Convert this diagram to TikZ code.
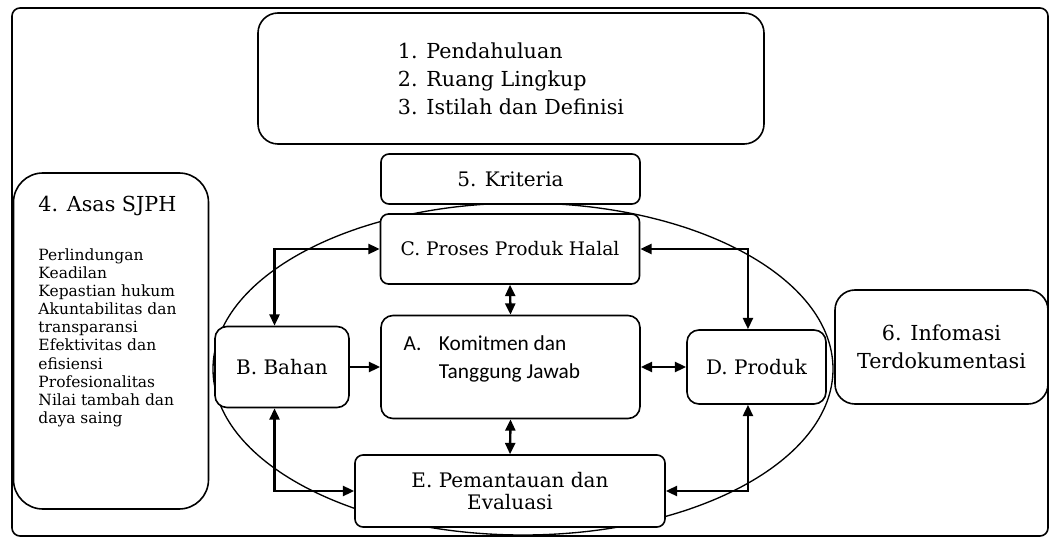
\documentclass[tikz,border=0pt]{standalone}
\usepackage{fontspec}
\setmainfont{DejaVu Serif}
\newfontfamily\calibri{Carlito}
\usetikzlibrary{arrows.meta}

\tikzset{every picture/.style={line width=0.75pt}}
\tikzset{
	kotak/.style={draw, line width=1.2pt, fill=white, rounded corners=6pt, align=center, inner sep=0pt, font=\fontsize{15}{21}\selectfont},
	panah/.style={line width=1.8pt},
}

\begin{document}
\begin{tikzpicture}[x=0.75pt,y=0.75pt,yscale=-1,xscale=1, >={Triangle[length=8.5pt,width=7.5pt]}]
	\useasboundingbox (0,0) rectangle (1050,538);

	%Rounded Rect [frame]
	\draw [line width=1.2pt, rounded corners=6pt] (12,8) rectangle (1048,536);
	%Shape: Ellipse
	\draw [line width=1pt] (523,369) ellipse [x radius=310, y radius=166];

	% Text Node
	\node [kotak, minimum width=379.5pt, minimum height=98.25pt, rounded corners=15pt, align=left, font=\fontsize{15.5}{21}\selectfont] (pendahuluan) at (511,78.5) {1. Pendahuluan\\2. Ruang Lingkup\\3. Istilah dan Definisi};
	% Text Node
	\node [kotak, minimum width=194.25pt, minimum height=37.5pt] (kriteria) at (510.5,179) {5. Kriteria};
	% Text Node
	\node [kotak, minimum width=194.25pt, minimum height=52.5pt, font=\fontsize{14}{21}\selectfont] (proses) at (510,249) {C. Proses Produk Halal};
	% Text Node
	\node [kotak, minimum width=194.25pt, minimum height=77.25pt, rounded corners=9pt, align=left, font=\calibri\fontsize{16}{21}\selectfont] (komitmen) at (510.5,367) {A.\hspace{13pt}Komitmen dan\\\phantom{A.}\hspace{13pt}Tanggung Jawab\rule{28pt}{0pt}\\[-6pt]\mbox{}};
	% Text Node
	\node [kotak, minimum width=100.5pt, minimum height=60.75pt, rounded corners=9pt] (bahan) at (282,367) {B. Bahan};
	% Text Node
	\node [kotak, minimum width=104.25pt, minimum height=55.5pt, rounded corners=9pt] (produk) at (756.5,367) {D. Produk};
	% Text Node
	\node [kotak, minimum width=232.5pt, minimum height=54pt, font=\fontsize{15}{16.5}\selectfont] (pemantauan) at (510,491) {E. Pemantauan dan\\Evaluasi};
	% Text Node
	\node [kotak, minimum width=146.25pt, minimum height=252pt, rounded corners=22pt] (asas) at (111,341) {};
	\node [anchor=west, inner sep=0pt, font=\fontsize{15.5}{21}\selectfont] (asasjudul) at (38,206) {4. Asas SJPH};
	\node [anchor=north west, inner sep=0pt, align=left, font=\fontsize{11.6}{13.6}\selectfont] (asasisi) at (38,248) {Perlindungan\\Keadilan\\Kepastian hukum\\Akuntabilitas dan\\transparansi\\Efektivitas dan\\efisiensi\\Profesionalitas\\Nilai tambah dan\\daya saing};
	% Text Node
	\node [kotak, minimum width=159.75pt, minimum height=85.5pt, rounded corners=15pt, font=\fontsize{15.5}{21}\selectfont] (informasi) at (941.5,347) {6. Infomasi\\Terdokumentasi};

	%Connectors
	\draw [panah, <->] ([xshift=-5.6pt]bahan.north) |- (proses.west);
	\draw [panah, ->] (bahan.east) -- (komitmen.west);
	\draw [panah, <->] ([xshift=-5.6pt]bahan.south) |- (pemantauan.west);
	\draw [panah, <->] (proses.south) -- (komitmen.north);
	\draw [panah, <->] (komitmen.south) -- (pemantauan.north);
	\draw [panah, <->] (komitmen.east) -- (produk.west);
	\draw [panah, <->] (proses.east) -| ([xshift=-6.4pt]produk.north);
	\draw [panah, <->] ([xshift=-6.4pt]produk.south) |- (pemantauan.east);

\end{tikzpicture}
\end{document}
